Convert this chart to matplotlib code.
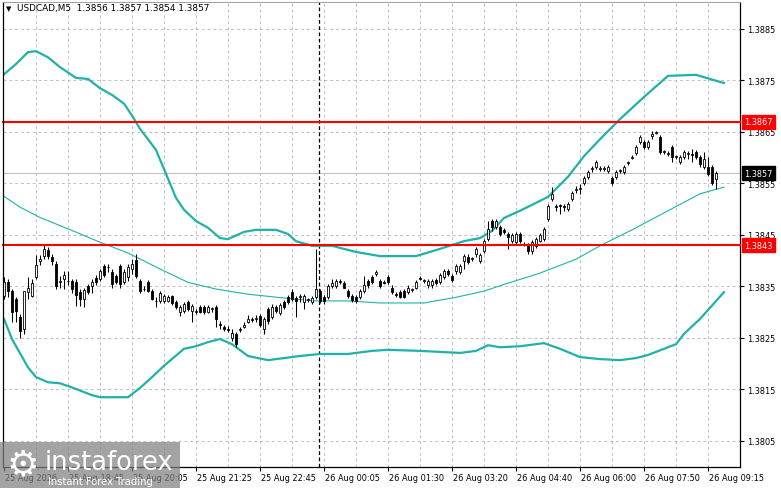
import matplotlib
matplotlib.use('Agg')
import matplotlib.pyplot as plt
import matplotlib.transforms as mtransforms
from matplotlib.patches import Rectangle

# USDCAD M5 candles (bar index = position on chart)
opens = [1.38331, 1.38358, 1.38341, 1.38326, 1.38291, 1.38267, 1.38339, 1.38331, 1.38368, 1.38399,
         1.38409, 1.38421, 1.38407, 1.38393, 1.38358, 1.38364, 1.38360, 1.38360, 1.38358, 1.38339,
         1.38326, 1.38350, 1.38350, 1.38366, 1.38364, 1.38390, 1.38388, 1.38378, 1.38370, 1.38390,
         1.38358, 1.38368, 1.38384, 1.38401, 1.38360, 1.38345, 1.38358, 1.38341, 1.38322, 1.38322,
         1.38322, 1.38322, 1.38331, 1.38320, 1.38300, 1.38302, 1.38320, 1.38302, 1.38300, 1.38310,
         1.38310, 1.38300, 1.38306, 1.38310, 1.38277, 1.38271, 1.38267, 1.38250, 1.38257, 1.38265,
         1.38271, 1.38281, 1.38287, 1.38287, 1.38293, 1.38267, 1.38306, 1.38291, 1.38310, 1.38298,
         1.38320, 1.38329, 1.38339, 1.38328, 1.38329, 1.38320, 1.38324, 1.38320, 1.38329, 1.38341,
         1.38329, 1.38329, 1.38350, 1.38350, 1.38360, 1.38356, 1.38341, 1.38331, 1.38329, 1.38329,
         1.38341, 1.38360, 1.38368, 1.38374, 1.38360, 1.38358, 1.38368, 1.38348, 1.38335, 1.38339,
         1.38341, 1.38339, 1.38343, 1.38348, 1.38366, 1.38360, 1.38352, 1.38352, 1.38362, 1.38358,
         1.38368, 1.38380, 1.38370, 1.38380, 1.38378, 1.38399, 1.38407, 1.38403, 1.38413, 1.38399,
         1.38419, 1.38442, 1.38477, 1.38466, 1.38466, 1.38460, 1.38452, 1.38438, 1.38436, 1.38452,
         1.38432, 1.38431, 1.38419, 1.38429, 1.38438, 1.38442, 1.38481, 1.38520, 1.38506, 1.38508,
         1.38506, 1.38500, 1.38520, 1.38537, 1.38539, 1.38551, 1.38563, 1.38578, 1.38582, 1.38578,
         1.38578, 1.38574, 1.38561, 1.38563, 1.38574, 1.38572, 1.38590, 1.38599, 1.38609, 1.38631,
         1.38631, 1.38621, 1.38642, 1.38648, 1.38640, 1.38611, 1.38607, 1.38621, 1.38601, 1.38592,
         1.38601, 1.38607, 1.38607, 1.38611, 1.38601, 1.38582, 1.38582, 1.38582, 1.38559]
highs = [1.38368, 1.38364, 1.38345, 1.38329, 1.38296, 1.38287, 1.38368, 1.38364, 1.38411, 1.38411,
         1.38431, 1.38427, 1.38413, 1.38399, 1.38370, 1.38380, 1.38380, 1.38364, 1.38364, 1.38345,
         1.38347, 1.38354, 1.38364, 1.38372, 1.38384, 1.38393, 1.38393, 1.38384, 1.38374, 1.38393,
         1.38384, 1.38393, 1.38403, 1.38413, 1.38364, 1.38350, 1.38362, 1.38345, 1.38329, 1.38341,
         1.38335, 1.38333, 1.38333, 1.38324, 1.38314, 1.38320, 1.38324, 1.38316, 1.38306, 1.38314,
         1.38314, 1.38314, 1.38310, 1.38314, 1.38283, 1.38275, 1.38273, 1.38267, 1.38261, 1.38271,
         1.38281, 1.38295, 1.38291, 1.38295, 1.38296, 1.38291, 1.38310, 1.38316, 1.38314, 1.38318,
         1.38324, 1.38333, 1.38345, 1.38331, 1.38335, 1.38335, 1.38327, 1.38331, 1.38423, 1.38345,
         1.38333, 1.38354, 1.38364, 1.38364, 1.38364, 1.38360, 1.38345, 1.38335, 1.38333, 1.38345,
         1.38370, 1.38364, 1.38372, 1.38382, 1.38364, 1.38362, 1.38372, 1.38352, 1.38339, 1.38343,
         1.38345, 1.38352, 1.38347, 1.38362, 1.38370, 1.38364, 1.38364, 1.38364, 1.38366, 1.38376,
         1.38384, 1.38384, 1.38374, 1.38393, 1.38393, 1.38413, 1.38413, 1.38407, 1.38427, 1.38415,
         1.38442, 1.38477, 1.38481, 1.38481, 1.38469, 1.38464, 1.38456, 1.38454, 1.38456, 1.38456,
         1.38436, 1.38434, 1.38440, 1.38446, 1.38454, 1.38466, 1.38510, 1.38543, 1.38510, 1.38510,
         1.38510, 1.38514, 1.38535, 1.38545, 1.38549, 1.38565, 1.38576, 1.38584, 1.38596, 1.38584,
         1.38584, 1.38586, 1.38565, 1.38576, 1.38578, 1.38586, 1.38594, 1.38605, 1.38625, 1.38644,
         1.38634, 1.38634, 1.38652, 1.38652, 1.38644, 1.38615, 1.38613, 1.38625, 1.38605, 1.38605,
         1.38615, 1.38613, 1.38617, 1.38615, 1.38605, 1.38611, 1.38601, 1.38586, 1.38574]
lows = [1.38326, 1.38329, 1.38281, 1.38281, 1.38250, 1.38257, 1.38326, 1.38329, 1.38364, 1.38391,
        1.38403, 1.38403, 1.38391, 1.38345, 1.38348, 1.38345, 1.38352, 1.38337, 1.38312, 1.38312,
        1.38310, 1.38335, 1.38337, 1.38352, 1.38360, 1.38368, 1.38378, 1.38348, 1.38354, 1.38348,
        1.38354, 1.38360, 1.38374, 1.38366, 1.38337, 1.38341, 1.38339, 1.38324, 1.38310, 1.38318,
        1.38318, 1.38320, 1.38314, 1.38306, 1.38292, 1.38298, 1.38302, 1.38281, 1.38296, 1.38298,
        1.38296, 1.38298, 1.38300, 1.38271, 1.38267, 1.38263, 1.38261, 1.38244, 1.38232, 1.38261,
        1.38269, 1.38279, 1.38281, 1.38281, 1.38271, 1.38257, 1.38277, 1.38287, 1.38298, 1.38295,
        1.38306, 1.38316, 1.38322, 1.38291, 1.38320, 1.38306, 1.38320, 1.38316, 1.38326, 1.38318,
        1.38316, 1.38326, 1.38347, 1.38348, 1.38354, 1.38347, 1.38327, 1.38320, 1.38318, 1.38326,
        1.38337, 1.38348, 1.38354, 1.38370, 1.38347, 1.38354, 1.38354, 1.38335, 1.38329, 1.38327,
        1.38327, 1.38335, 1.38339, 1.38345, 1.38362, 1.38356, 1.38348, 1.38348, 1.38352, 1.38354,
        1.38364, 1.38370, 1.38358, 1.38374, 1.38374, 1.38384, 1.38393, 1.38399, 1.38407, 1.38395,
        1.38415, 1.38438, 1.38458, 1.38462, 1.38448, 1.38452, 1.38423, 1.38434, 1.38432, 1.38434,
        1.38429, 1.38413, 1.38413, 1.38425, 1.38436, 1.38438, 1.38477, 1.38516, 1.38497, 1.38491,
        1.38497, 1.38497, 1.38516, 1.38532, 1.38530, 1.38547, 1.38559, 1.38572, 1.38578, 1.38574,
        1.38574, 1.38570, 1.38547, 1.38559, 1.38570, 1.38568, 1.38586, 1.38598, 1.38605, 1.38627,
        1.38617, 1.38617, 1.38636, 1.38646, 1.38607, 1.38607, 1.38603, 1.38592, 1.38598, 1.38588,
        1.38598, 1.38598, 1.38592, 1.38598, 1.38582, 1.38578, 1.38565, 1.38547, 1.38539]
closes = [1.38358, 1.38341, 1.38300, 1.38302, 1.38263, 1.38341, 1.38348, 1.38356, 1.38391, 1.38403,
          1.38423, 1.38409, 1.38399, 1.38350, 1.38360, 1.38372, 1.38360, 1.38345, 1.38333, 1.38326,
          1.38343, 1.38339, 1.38358, 1.38358, 1.38380, 1.38372, 1.38388, 1.38354, 1.38358, 1.38354,
          1.38378, 1.38388, 1.38393, 1.38370, 1.38341, 1.38345, 1.38341, 1.38326, 1.38322, 1.38337,
          1.38331, 1.38329, 1.38318, 1.38310, 1.38310, 1.38316, 1.38306, 1.38312, 1.38302, 1.38300,
          1.38300, 1.38310, 1.38308, 1.38287, 1.38275, 1.38267, 1.38265, 1.38259, 1.38238, 1.38267,
          1.38275, 1.38287, 1.38285, 1.38289, 1.38275, 1.38287, 1.38283, 1.38310, 1.38302, 1.38314,
          1.38310, 1.38320, 1.38326, 1.38322, 1.38331, 1.38331, 1.38326, 1.38328, 1.38345, 1.38322,
          1.38322, 1.38350, 1.38356, 1.38360, 1.38358, 1.38348, 1.38331, 1.38324, 1.38322, 1.38341,
          1.38352, 1.38352, 1.38358, 1.38378, 1.38350, 1.38356, 1.38358, 1.38339, 1.38333, 1.38329,
          1.38329, 1.38348, 1.38345, 1.38358, 1.38364, 1.38362, 1.38360, 1.38360, 1.38356, 1.38372,
          1.38380, 1.38374, 1.38362, 1.38390, 1.38390, 1.38409, 1.38397, 1.38405, 1.38423, 1.38411,
          1.38438, 1.38462, 1.38466, 1.38477, 1.38452, 1.38456, 1.38446, 1.38450, 1.38452, 1.38438,
          1.38431, 1.38419, 1.38436, 1.38442, 1.38450, 1.38462, 1.38506, 1.38530, 1.38504, 1.38506,
          1.38504, 1.38510, 1.38532, 1.38539, 1.38541, 1.38561, 1.38572, 1.38580, 1.38592, 1.38580,
          1.38580, 1.38582, 1.38551, 1.38572, 1.38576, 1.38582, 1.38592, 1.38601, 1.38621, 1.38640,
          1.38621, 1.38631, 1.38646, 1.38650, 1.38611, 1.38613, 1.38609, 1.38601, 1.38603, 1.38601,
          1.38611, 1.38609, 1.38605, 1.38601, 1.38588, 1.38598, 1.38568, 1.38551, 1.38570]

# Bollinger bands, read at selected bars
upper_bars = [0, 3, 6, 8, 11, 14, 18, 21, 24, 27, 30, 32, 34, 36, 38, 40, 43, 45, 48, 51, 54, 56, 60, 63,
              68, 71, 73, 77, 82, 88, 94, 103, 109, 115, 119, 122, 125, 129, 136, 141, 145, 149, 154, 160,
              166, 173, 180]
upper_vals = [1.38762, 1.38782, 1.38805, 1.38807, 1.38795, 1.38776, 1.38755, 1.38753, 1.38735, 1.38722,
              1.38705, 1.38682, 1.38656, 1.38636, 1.38615, 1.38578, 1.38522, 1.38499, 1.38477, 1.38464,
              1.38444, 1.38442, 1.38456, 1.38460, 1.38460, 1.38452, 1.38438, 1.38429, 1.38429, 1.38417,
              1.38409, 1.38409, 1.38423, 1.38438, 1.38444, 1.38458, 1.38483, 1.38497, 1.38524, 1.38563,
              1.38603, 1.38636, 1.38675, 1.38718, 1.38759, 1.38761, 1.38745]
middle_bars = [0, 4, 9, 16, 24, 31, 39, 46, 53, 61, 72, 78, 86, 94, 105, 113, 120, 125, 134, 143, 149,
               157, 166, 174, 180]
middle_vals = [1.38525, 1.38504, 1.38484, 1.38462, 1.38436, 1.38415, 1.38384, 1.38358, 1.38345, 1.38335,
               1.38326, 1.38322, 1.38322, 1.38318, 1.38318, 1.38329, 1.38341, 1.38354, 1.38376, 1.38403,
               1.38429, 1.38460, 1.38497, 1.38530, 1.38543]
lower_bars = [0, 2, 6, 8, 11, 14, 17, 22, 24, 31, 34, 37, 40, 45, 48, 51, 54, 57, 61, 66, 74, 79, 86, 92,
              96, 104, 114, 118, 121, 124, 129, 135, 139, 144, 149, 154, 158, 161, 165, 168, 170, 174, 180]
lower_vals = [1.38287, 1.38248, 1.38193, 1.38174, 1.38164, 1.38162, 1.38154, 1.38139, 1.38135, 1.38135,
              1.38153, 1.38174, 1.38196, 1.38229, 1.38234, 1.38242, 1.38248, 1.38238, 1.38215, 1.38207,
              1.38215, 1.38219, 1.38219, 1.38225, 1.38227, 1.38225, 1.38221, 1.38225, 1.38236, 1.38232,
              1.38234, 1.38240, 1.38229, 1.38213, 1.38209, 1.38207, 1.38211, 1.38217, 1.38229, 1.38238,
              1.38258, 1.38287, 1.38339]

levels = [1.3867, 1.3843]
last_price = 1.3857
header = "USDCAD,M5  1.3856 1.3857 1.3854 1.3857"
price_ticks = [1.3805, 1.3815, 1.3825, 1.3835, 1.3845, 1.3855, 1.3865, 1.3875, 1.3885]
time_labels = ["25 Aug 2026", "25 Aug 18:45", "25 Aug 20:05", "25 Aug 21:25", "25 Aug 22:45",
               "26 Aug 00:05", "26 Aug 01:30", "26 Aug 03:20", "26 Aug 04:40", "26 Aug 06:00",
               "26 Aug 07:50", "26 Aug 09:15"]
time_label_bars = [0, 16, 32, 48, 64, 80, 96, 112, 128, 144, 160, 176]
day_start_bar = 79

W, H = 781, 489
fig = plt.figure(figsize=(W / 100, H / 100), dpi=100)
fig.patch.set_facecolor('white')
ax = fig.add_axes([3 / W, 21 / H, 737 / W, 465 / H])
ax.set_xlim(-0.25, 184)
ax.set_ylim(1.379995, 1.389024)

font = 'DejaVu Sans'
fs = 5.9
band_col = '#20b2aa'

# grid
for b in range(8, 184, 8):
    ax.axvline(b, color='#c0c0c0', lw=0.7, ls=(0, (3, 3)), zorder=0)
for p in price_ticks:
    ax.axhline(p, color='#c0c0c0', lw=0.7, ls=(0, (3, 3)), zorder=0)

ax.axhline(last_price, color='#c0c0c0', lw=0.8, zorder=1)
ax.axvline(day_start_bar - 0.25, color='black', lw=0.9, ls=(0, (3, 2)), zorder=1)

# bands
ax.plot(upper_bars, upper_vals, color=band_col, lw=1.6, zorder=2, solid_joinstyle='round')
ax.plot(lower_bars, lower_vals, color=band_col, lw=1.6, zorder=2, solid_joinstyle='round')
ax.plot(middle_bars, middle_vals, color=band_col, lw=0.8, zorder=2)

# candles
bw = 0.72
for i in range(len(closes)):
    o, h, l, c = opens[i], highs[i], lows[i], closes[i]
    ax.vlines(i, l, h, color='black', lw=0.75, zorder=3)
    if abs(c - o) < 0.000015:
        ax.hlines(o, i - bw / 2, i + bw / 2, color='black', lw=0.75, zorder=4)
    else:
        fc = 'white' if c > o else 'black'
        ax.add_patch(Rectangle((i - bw / 2, min(o, c)), bw, abs(c - o), facecolor=fc,
                               edgecolor='black', lw=0.6, zorder=4))

for lv in levels:
    ax.axhline(lv, color='#ff0000', lw=1.5, zorder=5, clip_on=False)

# axes styling
for s in ['left', 'top']:
    ax.spines[s].set_visible(False)
ax.spines['right'].set_linewidth(0.9)
ax.spines['bottom'].set_linewidth(0.9)
ax.plot([0, 0], [0, 1], transform=ax.transAxes, color='black', lw=0.9, clip_on=False, zorder=6)
ax.plot([0, 1], [1, 1], transform=ax.transAxes, color='#a0a0a0', lw=0.7, clip_on=False, zorder=6)

ax.yaxis.tick_right()
ax.set_yticks(price_ticks)
ax.set_yticklabels([f"{p:.4f}" for p in price_ticks], fontsize=fs, fontfamily=font)
ax.tick_params(axis='y', direction='out', length=3, width=0.8, pad=2)
ax.set_xticks(time_label_bars)
ax.set_xticklabels(time_labels, fontsize=fs, fontfamily=font, ha='left')
ax.tick_params(axis='x', direction='out', length=3, width=0.8, pad=1.5)
for t in ax.get_xticklabels():
    t.set_transform(t.get_transform() + mtransforms.ScaledTranslation(1 / 100, 0, fig.dpi_scale_trans))

# right-hand price tags
trans = mtransforms.blended_transform_factory(ax.transAxes, ax.transData)
tags = [(levels[0], '#ff0000'), (levels[1], '#ff0000'), (last_price, 'black')]
for val, col in tags:
    ax.text(1.0 + 4 / 737, val, f"{val:.4f}", transform=trans, fontsize=fs, fontfamily=font,
            color='white', va='center', ha='left', zorder=7, clip_on=False,
            bbox=dict(boxstyle='square,pad=0.3', fc=col, ec=col))

# header
fig.text(9 / W, 1 - 9 / H, "\u25bc", fontsize=5, fontfamily=font, va='center', ha='center')
fig.text(17 / W, 1 - 9 / H, header, fontsize=6.4, fontfamily=font, va='center', ha='left')

# watermark
fig.patches.append(Rectangle((0, 0), 180 / W, 46 / H, transform=fig.transFigure,
                             facecolor='#808080', alpha=0.72, edgecolor='none', zorder=10))
fig.text(23 / W, 24 / H, "\u2699", fontsize=26, color='white', fontfamily=font,
         ha='center', va='center', zorder=11)
fig.text(45 / W, 26 / H, "instaforex", fontsize=18.5, color='white', fontfamily=font,
         ha='left', va='center', zorder=11)
fig.text(48 / W, 7 / H, "Instant Forex Trading", fontsize=7.2, color='white', fontfamily=font,
         ha='left', va='center', zorder=11)

fig.savefig('out.png', dpi=100)
